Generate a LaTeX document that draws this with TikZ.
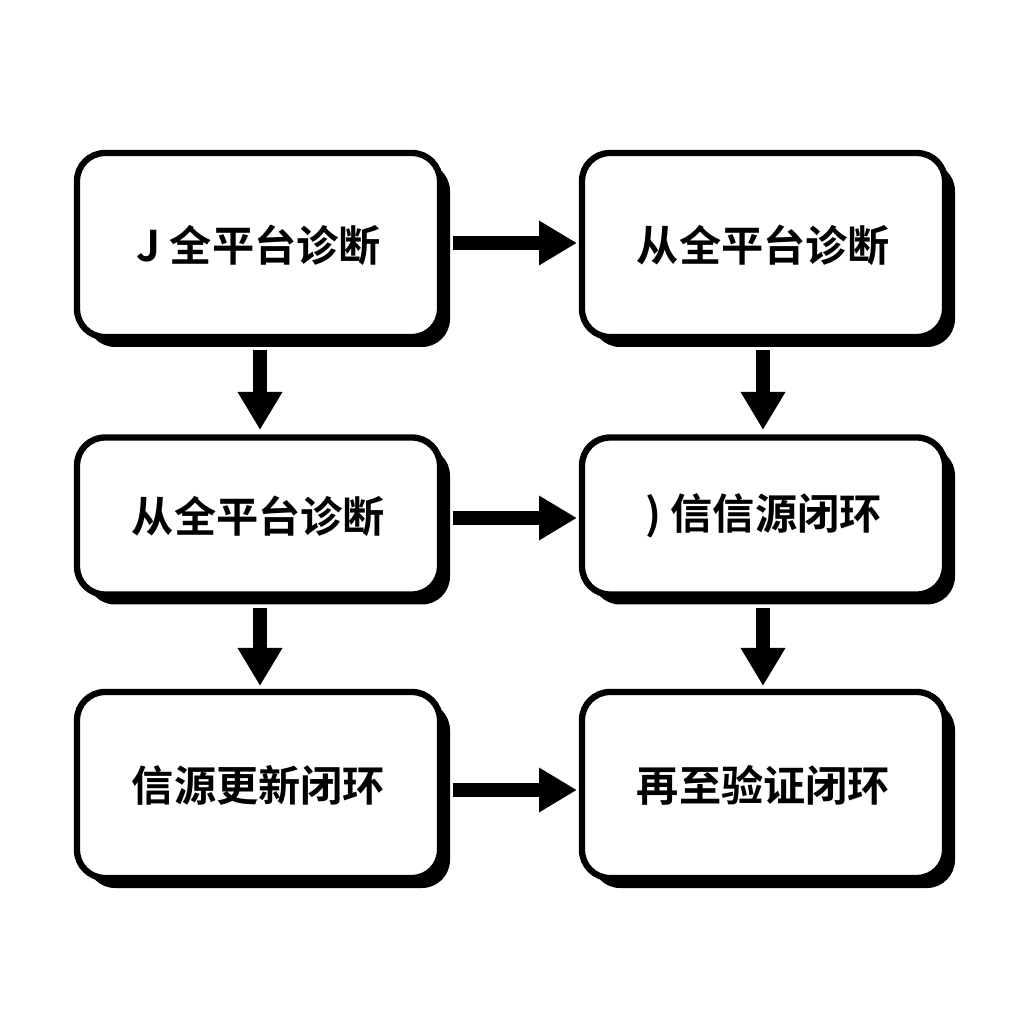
\documentclass[tikz,border=0pt]{standalone}
\usepackage{fontspec}
\setmainfont{Noto Sans CJK SC Bold}
\usetikzlibrary{positioning,shadows,arrows.meta}

\begin{document}
\begin{tikzpicture}
\tikzstyle{box}=[draw=black,line width=1.8pt,fill=white,rounded corners=0.28cm,minimum width=3.63cm,
  drop shadow={shadow xshift=0.1cm,shadow yshift=-0.1cm,fill=black,opacity=1},
  font=\fontsize{12pt}{14pt}\selectfont]
\tikzstyle{flow}=[line width=0.14cm,-{Triangle[length=0.38cm,width=0.42cm]}]
\useasboundingbox (0,0) rectangle (10.24,10.24);
\node [box,minimum height=1.84cm] (diag1) at (2.585,7.79) {J 全平台诊断};
\node [box,minimum height=1.84cm] (diag2) at (7.635,7.79) {从全平台诊断};
\node [box,minimum height=1.57cm] (diag3) at (2.585,5.08) {从全平台诊断};
\node [box,minimum height=1.57cm] (loop1) at (7.635,5.08) {) 信信源闭环};
\node [box,minimum height=1.86cm] (loop2) at (2.585,2.39) {信源更新闭环};
\node [box,minimum height=1.86cm] (loop3) at (7.635,2.39) {再至验证闭环};
\coordinate (h1) at (5.77,7.81);
\coordinate (h2) at (5.77,5.06);
\coordinate (h3) at (5.77,2.34);
\coordinate (v1) at (2.6,5.94);
\coordinate (v2) at (7.63,5.94);
\coordinate (v3) at (2.6,3.38);
\coordinate (v4) at (7.63,3.38);
\draw [flow] (diag1.east |- h1) ++(0.1,0) -- (h1);
\draw [flow] (diag3.east |- h2) ++(0.1,0) -- (h2);
\draw [flow] (loop2.east |- h3) ++(0.1,0) -- (h3);
\draw [flow] (diag1.south -| v1) ++(0,-0.1) -- (v1);
\draw [flow] (diag2.south -| v2) ++(0,-0.1) -- (v2);
\draw [flow] (diag3.south -| v3) ++(0,-0.1) -- (v3);
\draw [flow] (loop1.south -| v4) ++(0,-0.1) -- (v4);
\end{tikzpicture}
\end{document}
